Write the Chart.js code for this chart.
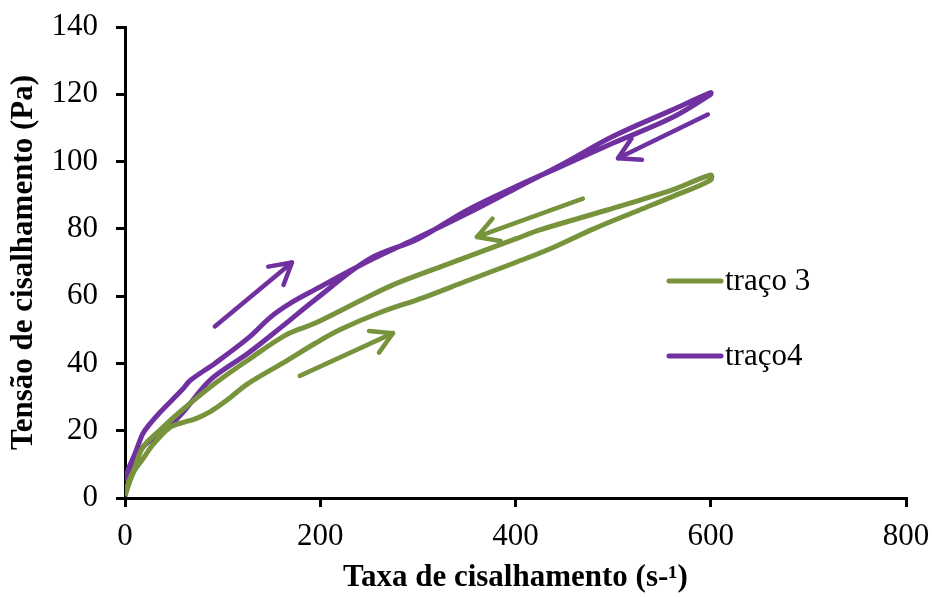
<!DOCTYPE html>
<html>
<head>
<meta charset="utf-8">
<script src="https://cdn.jsdelivr.net/npm/chart.js@4/dist/chart.umd.min.js"></script>
<style>
  html, body { margin: 0; padding: 0; background: #fff; }
  #wrap { width: 932px; height: 597px; }
</style>
</head>
<body>
<div id="wrap"><canvas id="c" width="932" height="597"></canvas></div>
<script>
// traço 3: subida e descida (laço)
const verdeX = [0, 5, 10, 18, 29, 46, 60, 72, 87, 104, 126, 161, 195, 220, 260, 305, 350, 400, 435, 480, 527, 560, 600,
                600, 560, 494, 425, 400, 323, 280, 250, 195, 165, 126, 92, 58, 35, 18, 10, 4, 0]
const verdeY = [0.5, 5, 8.3, 11.5, 16, 21, 22.5, 23.5, 25.6, 29, 34, 40, 46, 50, 55, 59.5, 64.5, 70, 74, 80, 85.6, 89.5, 94.5,
                96, 91.5, 85.6, 79.7, 77, 68.7, 64, 60, 52, 48.5, 41, 34, 26, 20, 15, 9, 5, 1]

// traço4
const roxoX = [0, 4, 10, 18, 24, 36, 58, 67, 92, 126, 150, 170, 195, 250, 290, 350, 400, 450, 500, 560, 600,
               600, 560, 500, 450, 400, 350, 300, 250, 195, 161, 126, 87, 58, 40, 18, 8, 0]
const roxoY = [5, 9, 13, 19, 21.5, 25.5, 32, 35, 40, 47.5, 54, 58, 62, 70.5, 76, 84.5, 92, 99.5, 107.5, 115.3, 120.5,
               120, 113, 105.5, 99, 92.5, 85.5, 77, 71, 59, 51, 43, 35, 25, 20, 15, 9, 5]

// setas: [x0, y0, x1, y1] (ponta no segundo ponto)
const setaRoxoSobe  = [92, 51, 171, 70]
const setaRoxoDesce = [597, 114, 505, 101]
const setaVerdeSobe = [179, 36.3, 274.5, 49]
const setaVerdeDesce = [469, 89, 360.5, 77.6]

const xTicks = [0, 200, 400, 600, 800]
const yTicks = [0, 20, 40, 60, 80, 100, 120, 140]

const VERDE = '#77933C'
const ROXO = '#7030A0'
const FONTE = "'Liberation Serif', 'Times New Roman', serif"

const pts = (xs, ys) => xs.map((x, i) => ({ x, y: ys[i] }))
const seta = (a, cor) => ({
  label: 'seta',
  arrow: true,
  data: [{ x: a[0], y: a[1] }, { x: a[2], y: a[3] }],
  borderColor: cor,
  borderWidth: 4.5,
  borderCapStyle: 'round',
  showLine: true,
  pointRadius: 0,
  tension: 0,
})

// ponta de seta aberta no último ponto
const arrowHeads = {
  id: 'arrowHeads',
  afterDatasetsDraw(chart) {
    const ctx = chart.ctx
    chart.data.datasets.forEach((ds, i) => {
      if (!ds.arrow) return
      const els = chart.getDatasetMeta(i).data
      const a = els[0], b = els[1]
      const ang = Math.atan2(b.y - a.y, b.x - a.x)
      const len = 24, spread = 0.52
      ctx.save()
      ctx.strokeStyle = ds.borderColor
      ctx.lineWidth = 4.5
      ctx.lineCap = 'round'
      ctx.lineJoin = 'round'
      ctx.beginPath()
      ctx.moveTo(b.x - len * Math.cos(ang - spread), b.y - len * Math.sin(ang - spread))
      ctx.lineTo(b.x, b.y)
      ctx.lineTo(b.x - len * Math.cos(ang + spread), b.y - len * Math.sin(ang + spread))
      ctx.stroke()
      ctx.restore()
    })
  },
}

// legenda à direita, dentro da área do gráfico
const legendaDentro = {
  id: 'legendaDentro',
  afterDraw(chart) {
    const ctx = chart.ctx
    const itens = chart.data.datasets.filter(d => !d.arrow)
    const rows = [281, 356]
    ctx.save()
    itens.forEach((d, i) => {
      const y = rows[i]
      ctx.strokeStyle = d.borderColor
      ctx.lineWidth = 5
      ctx.lineCap = 'round'
      ctx.beginPath()
      ctx.moveTo(669, y)
      ctx.lineTo(721, y)
      ctx.stroke()
      ctx.fillStyle = '#000'
      ctx.font = '31px ' + FONTE
      ctx.textBaseline = 'middle'
      ctx.fillText(d.label, 725, y + 1)
    })
    ctx.restore()
  },
}

new Chart(document.getElementById('c'), {
  type: 'scatter',
  data: {
    datasets: [
      {
        label: 'traço 3',
        data: pts(verdeX, verdeY),
        borderColor: VERDE,
        backgroundColor: VERDE,
        borderWidth: 5,
        showLine: true,
        pointRadius: 0,
        tension: 0.35,
      },
      {
        label: 'traço4',
        data: pts(roxoX, roxoY),
        borderColor: ROXO,
        backgroundColor: ROXO,
        borderWidth: 5,
        showLine: true,
        pointRadius: 0,
        tension: 0.35,
      },
      seta(setaRoxoSobe, ROXO),
      seta(setaRoxoDesce, ROXO),
      seta(setaVerdeSobe, VERDE),
      seta(setaVerdeDesce, VERDE),
    ],
  },
  options: {
    responsive: false,
    animation: false,
    layout: { padding: { top: 27, right: 26, left: 0, bottom: 0 } },
    plugins: {
      legend: { display: false },
      tooltip: { enabled: false },
    },
    scales: {
      x: {
        type: 'linear',
        min: 0,
        max: 800,
        afterBuildTicks: s => { s.ticks = xTicks.map(v => ({ value: v })) },
        afterFit: s => { s.height = 99; s.paddingLeft = 0; s.paddingRight = 0 },
        border: { color: '#000', width: 3 },
        grid: { drawOnChartArea: false, drawTicks: true, tickLength: 9, color: '#000', lineWidth: 3 },
        ticks: { color: '#000', font: { family: FONTE, size: 31 }, padding: 11, maxRotation: 0 },
        title: {
          display: true,
          text: 'Taxa de cisalhamento (s-¹)',
          color: '#000',
          font: { family: FONTE, size: 31, weight: 'bold' },
          padding: { top: 0, bottom: 0 },
        },
      },
      y: {
        min: 0,
        max: 140,
        afterBuildTicks: s => { s.ticks = yTicks.map(v => ({ value: v })) },
        afterFit: s => { s.width = 125; s.paddingTop = 0; s.paddingBottom = 0 },
        border: { color: '#000', width: 3 },
        grid: { drawOnChartArea: false, drawTicks: true, tickLength: 9, color: '#000', lineWidth: 3 },
        ticks: { color: '#000', font: { family: FONTE, size: 31 }, padding: 18 },
        title: {
          display: true,
          text: 'Tensão de cisalhamento (Pa)',
          color: '#000',
          font: { family: FONTE, size: 31, weight: 'bold' },
          padding: { top: 5, bottom: 0 },
        },
      },
    },
  },
  plugins: [arrowHeads, legendaDentro],
})
</script>
</body>
</html>
